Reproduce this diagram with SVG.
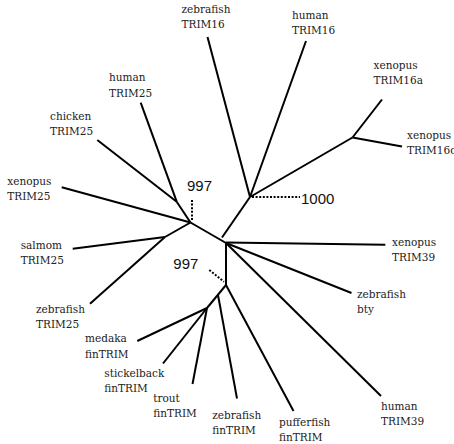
<svg xmlns="http://www.w3.org/2000/svg" width="454" height="444" viewBox="0 0 454 444">
<style>
.lbl{font-family:"DejaVu Serif","Liberation Serif",serif;font-size:10.5px;fill:#222}
.bs{font-family:"Liberation Sans",Arial,sans-serif;font-size:15px;fill:#111}
.br{stroke:#000;stroke-width:2;fill:none;stroke-linecap:butt}
.dot{stroke:#000;stroke-width:2;fill:none;stroke-dasharray:2 1.6}
</style>
<rect width="454" height="444" fill="#fff"/>
<g id="connectors">
<path class="br" d="M207.5,37 L250,197"/>
<path class="br" d="M306,41 L250,197"/>
<path class="br" d="M250,197 L352.5,137.5"/>
<path class="br" d="M352.5,137.5 L382,99.5"/>
<path class="br" d="M352.5,137.5 L402,146.5"/>
<path class="br" d="M222,237.5 L250,197"/>
<path class="br" d="M140.7,102.7 L176.7,201.7"/>
<path class="br" d="M97.3,140 L176.7,201.7"/>
<path class="br" d="M176.7,201.7 L190.5,222.5"/>
<path class="br" d="M61.7,187.3 L190.5,222.5"/>
<path class="br" d="M190.5,222.5 L165,237"/>
<path class="br" d="M72.7,248.7 L165,237"/>
<path class="br" d="M90,303.7 L165,237"/>
<path class="br" d="M190.5,222.5 L226,243"/>
<path class="br" d="M226,242.5 L385.3,244.7"/>
<path class="br" d="M226,243 L351.5,293"/>
<path class="br" d="M226,243 L381,396"/>
<path class="br" d="M226,242 L226,285"/>
<path class="br" d="M226,285 L293.5,411"/>
<path class="br" d="M226,285 L207,308"/>
<path class="br" d="M218,295 L237,398.5"/>
<path class="br" d="M207,308 L137.3,341"/>
<path class="br" d="M207,308 L163,363.5"/>
<path class="br" d="M207,308 L192.5,384"/>
<path class="dot" d="M192,200 L192,221"/>
<path class="dot" d="M252,197 L300,197"/>
<path class="dot" d="M209.3,270 L224,281.7"/>
</g>
<g id="bootstrap">
<text class="bs" x="187" y="190.7">997</text>
<text class="bs" x="301" y="204">1000</text>
<text class="bs" x="173.3" y="268.7">997</text>
</g>
<g id="zebrafish-trim16"><text class="lbl" x="181.5" y="13">zebrafish</text><text class="lbl" x="181.5" y="28">TRIM16</text></g>
<g id="human-trim16"><text class="lbl" x="292" y="18.5">human</text><text class="lbl" x="292" y="33.5">TRIM16</text></g>
<g id="xenopus-trim16a"><text class="lbl" x="373.5" y="69">xenopus</text><text class="lbl" x="373.5" y="84">TRIM16a</text></g>
<g id="xenopus-trim16c"><text class="lbl" x="407" y="139">xenopus</text><text class="lbl" x="407" y="154">TRIM16c</text></g>
<g id="human-trim25"><text class="lbl" x="109" y="81">human</text><text class="lbl" x="109" y="96.5">TRIM25</text></g>
<g id="chicken-trim25"><text class="lbl" x="50" y="119.5">chicken</text><text class="lbl" x="50" y="134.5">TRIM25</text></g>
<g id="xenopus-trim25"><text class="lbl" x="7.3" y="185">xenopus</text><text class="lbl" x="7.3" y="200">TRIM25</text></g>
<g id="salmom-trim25"><text class="lbl" x="20.7" y="248.5">salmom</text><text class="lbl" x="20.7" y="263.5">TRIM25</text></g>
<g id="zebrafish-trim25"><text class="lbl" x="36" y="312.7">zebrafish</text><text class="lbl" x="36" y="328">TRIM25</text></g>
<g id="medaka-fintrim"><text class="lbl" x="85" y="342">medaka</text><text class="lbl" x="85" y="357.5">finTRIM</text></g>
<g id="stickelback-fintrim"><text class="lbl" x="104.3" y="377">stickelback</text><text class="lbl" x="104.3" y="392">finTRIM</text></g>
<g id="trout-fintrim"><text class="lbl" x="153.3" y="401.5">trout</text><text class="lbl" x="153.3" y="416.5">finTRIM</text></g>
<g id="zebrafish-fintrim"><text class="lbl" x="212.3" y="419">zebrafish</text><text class="lbl" x="212.3" y="434">finTRIM</text></g>
<g id="pufferfish-fintrim"><text class="lbl" x="279" y="426">pufferfish</text><text class="lbl" x="279" y="441">finTRIM</text></g>
<g id="human-trim39"><text class="lbl" x="381" y="409.5">human</text><text class="lbl" x="381" y="425">TRIM39</text></g>
<g id="zebrafish-bty"><text class="lbl" x="357" y="297.5">zebrafish</text><text class="lbl" x="357" y="312.7">bty</text></g>
<g id="xenopus-trim39"><text class="lbl" x="392" y="246">xenopus</text><text class="lbl" x="392" y="260.7">TRIM39</text></g>
</svg>
